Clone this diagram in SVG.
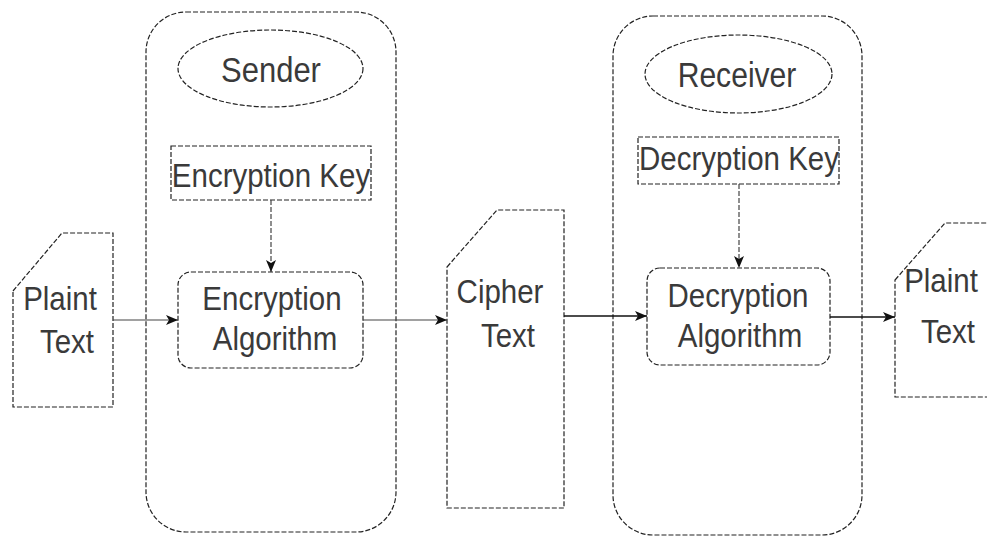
<svg xmlns="http://www.w3.org/2000/svg" width="987" height="538" viewBox="0 0 987 538">
  <style>
    .shape { fill: #fff; stroke: #222; stroke-width: 1.2; stroke-dasharray: 5 2; }
    .lbl { font-family: "Liberation Sans", Arial, sans-serif; font-size: 29.5px; fill: #3a3a3a; text-anchor: middle; }
    .edge { fill: none; stroke: #444; stroke-width: 1.2; }
    .edge.dark { stroke: #111; stroke-width: 1.6; }
    .edge.dash { stroke-dasharray: 5 2; }
  </style>
  <defs>
    <marker id="arrow" viewBox="0 0 12 10" refX="12" refY="5" markerWidth="12" markerHeight="10" markerUnits="userSpaceOnUse" orient="auto">
      <path d="M0,0 L12,5 L0,10 L3,5 z" fill="#111"/>
    </marker>
  </defs>

  <rect width="987" height="538" fill="#fff"/>

  <!-- Sender lane -->
  <g id="sender">
    <rect class="shape" x="146" y="12" width="250" height="520" rx="40" ry="40"/>
    <ellipse class="shape" cx="270.5" cy="68.5" rx="92.5" ry="38.5"/>
    <text class="lbl" transform="translate(271 82) scale(1.05 1.2)">Sender</text>
  </g>

  <g id="encryption-key">
    <rect class="shape" x="171" y="146" width="200" height="54"/>
    <text class="lbl" transform="translate(271 187) scale(1 1.15)">Encryption Key</text>
  </g>

  <g id="encryption-algorithm">
    <rect class="shape" x="178" y="272" width="185" height="96" rx="13" ry="13"/>
    <text class="lbl" transform="translate(272 310) scale(1 1.15)">Encryption</text>
    <text class="lbl" transform="translate(275 350) scale(1 1.15)">Algorithm</text>
  </g>

  <!-- Receiver lane -->
  <g id="receiver">
    <rect class="shape" x="613" y="16" width="249" height="519" rx="40" ry="40"/>
    <ellipse class="shape" cx="738.5" cy="74" rx="93.5" ry="39"/>
    <text class="lbl" transform="translate(737 87) scale(1.02 1.2)">Receiver</text>
  </g>

  <g id="decryption-key">
    <rect class="shape" x="638" y="137" width="201" height="47"/>
    <text class="lbl" transform="translate(739 170) scale(1 1.15)">Decryption Key</text>
  </g>

  <g id="decryption-algorithm">
    <rect class="shape" x="647" y="268" width="183" height="97" rx="13" ry="13"/>
    <text class="lbl" transform="translate(738 307) scale(1 1.15)">Decryption</text>
    <text class="lbl" transform="translate(740 347) scale(1 1.15)">Algorithm</text>
  </g>

  <!-- Documents -->
  <g id="plain-text-in">
    <polygon class="shape" points="13,291 62,233 113,233 113,407 13,407"/>
    <text class="lbl" transform="translate(60 310) scale(1 1.15)">Plaint</text>
    <text class="lbl" transform="translate(67 353) scale(1 1.15)">Text</text>
  </g>

  <g id="cipher-text">
    <polygon class="shape" points="447,267 497,210 564,210 564,508 447,508"/>
    <text class="lbl" transform="translate(500 303) scale(1 1.15)">Cipher</text>
    <text class="lbl" transform="translate(508 347) scale(1 1.15)">Text</text>
  </g>

  <g id="plain-text-out">
    <polygon class="shape" points="895,280 945,223 1000,223 1000,397 895,397"/>
    <text class="lbl" transform="translate(941 292) scale(1 1.15)">Plaint</text>
    <text class="lbl" transform="translate(948 343) scale(1 1.15)">Text</text>
  </g>

  <!-- Connectors -->
  <g id="connectors">
    <line class="edge" x1="113" y1="320" x2="178" y2="320" marker-end="url(#arrow)"/>
    <line class="edge" x1="363" y1="320" x2="447" y2="320" marker-end="url(#arrow)"/>
    <line class="edge dark" x1="564" y1="316" x2="647" y2="316" marker-end="url(#arrow)"/>
    <line class="edge dark" x1="830" y1="317" x2="895" y2="317" marker-end="url(#arrow)"/>
    <line class="edge dash" x1="271" y1="200" x2="271" y2="272" marker-end="url(#arrow)"/>
    <line class="edge dash" x1="739" y1="184" x2="739" y2="268" marker-end="url(#arrow)"/>
  </g>
</svg>
